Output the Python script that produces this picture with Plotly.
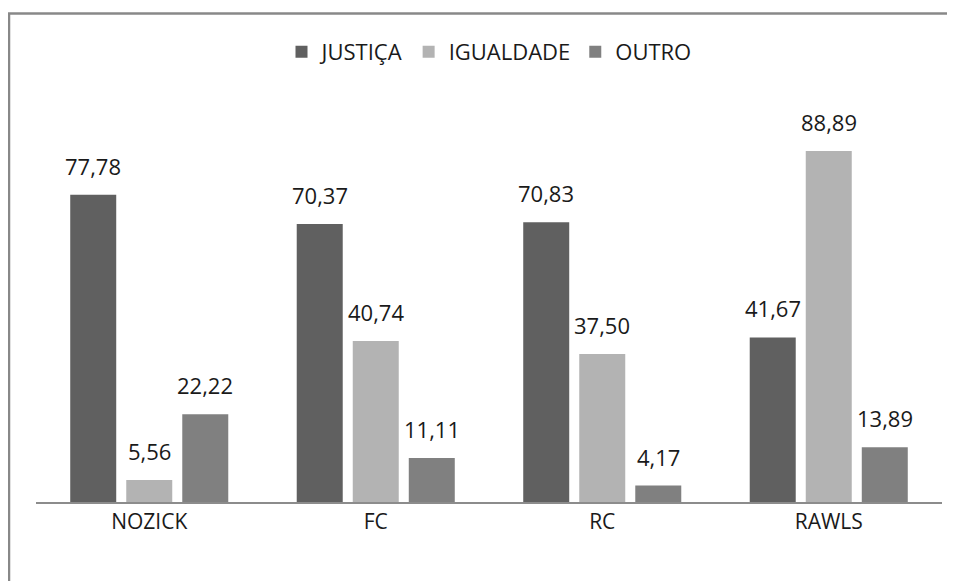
import plotly.graph_objects as go

categories = ["NOZICK", "FC", "RC", "RAWLS"]
justica = [77.78, 70.37, 70.83, 41.67]
igualdade = [5.56, 40.74, 37.50, 88.89]
outro = [22.22, 11.11, 4.17, 13.89]

series = [
    ("JUSTIÇA", justica, "#606060"),
    ("IGUALDADE", igualdade, "#b3b3b3"),
    ("OUTRO", outro, "#808080"),
]

FONT = "Open Sans"
BARGAP, GROUPGAP = 0.258, 0.179

# figure is placed by the page at an 8px offset; plot area in figure pixels
W, H = 947, 573
L, R, T, B = 28, 13, 99, 79
pw, ph = W - L - R, H - T - B

def px(x):
    return (x - L) / pw

def py(y):
    return (H - B - y) / ph

fig = go.Figure()
for name, vals, col in series:
    fig.add_trace(go.Bar(
        x=categories, y=vals, name=name,
        marker=dict(color=col, line=dict(width=0)),
        hovertemplate="%{x}: %{y:.2f}<extra>" + name + "</extra>",
    ))

slot = pw / len(categories) * (1 - BARGAP) / len(series)
annotations = []
for j, (name, vals, col) in enumerate(series):
    for cat, v in zip(categories, vals):
        annotations.append(dict(
            x=cat, y=v, xref="x", yref="y", text=f"{v:.2f}".replace(".", ","),
            showarrow=False, yanchor="bottom", xanchor="center",
            xshift=(j - 1) * slot, yshift=12,
            font=dict(family=FONT, size=22, color="#1a1a1a"),
        ))

fig.update_layout(
    width=W, height=H,
    margin=dict(l=L, r=R, t=T, b=B),
    paper_bgcolor="white", plot_bgcolor="white",
    barmode="group", bargap=BARGAP, bargroupgap=GROUPGAP,
    showlegend=True,
    legend=dict(orientation="h", x=0.5, xanchor="center", y=py(44), yanchor="middle",
                font=dict(family=FONT, size=22, color="#1a1a1a"),
                itemclick=False, traceorder="normal"),
    xaxis=dict(showline=True, linecolor="#8c8c8c", linewidth=2, ticks="",
               tickfont=dict(family=FONT, size=21, color="#1a1a1a"),
               showgrid=False, zeroline=False),
    yaxis=dict(range=[0, 100], visible=False, showgrid=False, zeroline=False),
    annotations=annotations,
    shapes=[
        dict(type="line", xref="paper", yref="paper", x0=px(1), x1=px(1),
             y0=py(5), y1=py(H), line=dict(color="#888888", width=2.5)),
        dict(type="line", xref="paper", yref="paper", x0=px(0), x1=px(W),
             y0=py(5.5), y1=py(5.5), line=dict(color="#888888", width=2.5)),
    ],
)
fig.write_html("out.html")
